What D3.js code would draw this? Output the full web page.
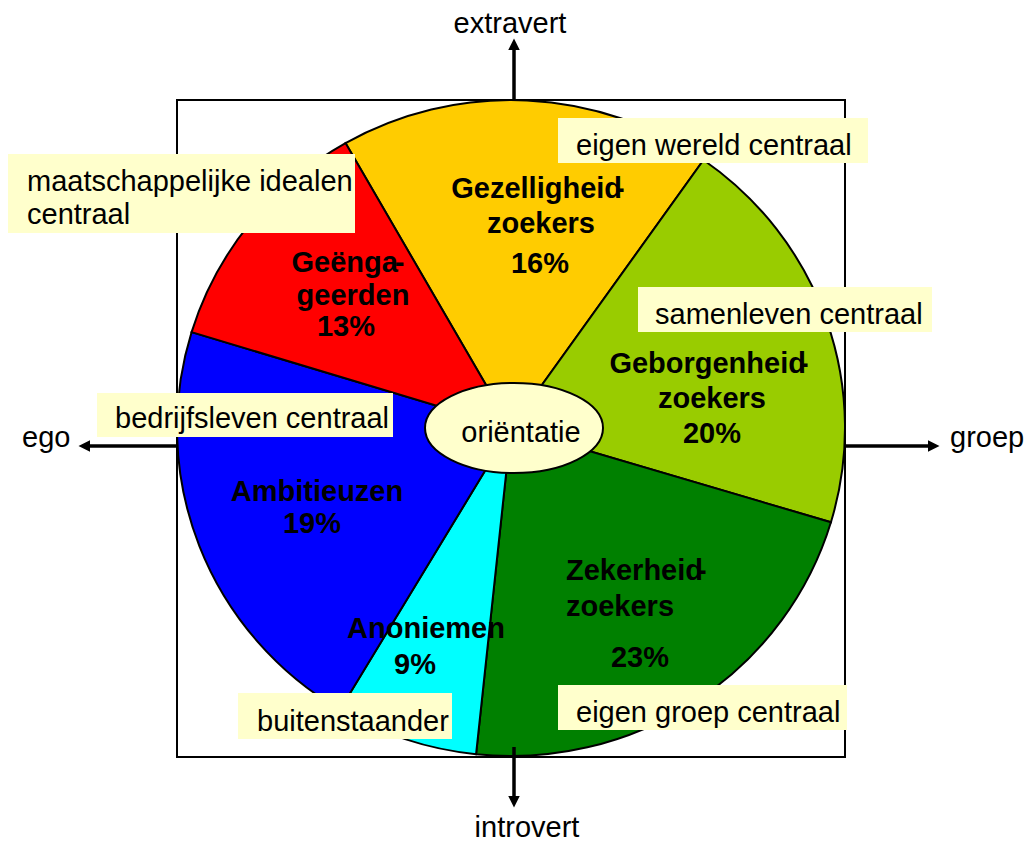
<!DOCTYPE html>
<html>
<head>
<meta charset="utf-8">
<script src="https://cdn.jsdelivr.net/npm/d3@7"></script>
<style>
  body { margin: 0; background: #fff; }
  svg { display: block; }
  text { font-family: "Liberation Sans", Arial, sans-serif; fill: #000; }
</style>
</head>
<body>
<script>
// segments clockwise, starting at the top-left (yellow)
const segments = ["Gezelligheidzoekers", "Geborgenheidzoekers", "Zekerheidzoekers", "Anoniemen", "Ambitieuzen", "Geëngageerden"];
const percentLabels = ["16%", "20%", "23%", "9%", "19%", "13%"];
// slice width as it is drawn in the picture, in degrees
const sliceShare = [64.9, 71.5, 79.3, 24.8, 76.2, 43.3];
const sliceColors = ["#FFCC00", "#99CC00", "#008000", "#00FFFF", "#0000FF", "#FF0000"];
const nameLines = [
  ["Gezelligheid-", "zoekers"],
  ["Geborgenheid-", "zoekers"],
  ["Zekerheid-", "zoekers"],
  ["Anoniemen"],
  ["Ambitieuzen"],
  ["Geënga-", "geerden"]
];
const notes = ["eigen wereld centraal", "samenleven centraal", "eigen groep centraal", "buitenstaander", "bedrijfsleven centraal", "maatschappelijke idealen\ncentraal"];
const axisLabels = ["extravert", "groep", "introvert", "ego"];
const centreLabel = "oriëntatie";

const W = 1026, H = 843;
const cx = 511, cy = 428, rx = 334, ry = 328;
const startDeg = 330.3;

// where the text sits (name lines, percentage)
const labelPos = [
  {lines: [[538, 198], [541, 233]], pct: [540, 273], anchor: "middle", hy: -7},
  {lines: [[709, 373], [712, 408]], pct: [712, 443], anchor: "middle", hy: -7},
  {lines: [[566, 580], [566, 616]], pct: [640, 667], anchor: "start", hy: -6},
  {lines: [[426, 638]], pct: [415, 674], anchor: "middle", hy: 0},
  {lines: [[317, 501]], pct: [312, 533], anchor: "middle", hy: 0},
  {lines: [[348, 272], [353, 305]], pct: [346, 336], anchor: "middle", hy: -3}
];
const noteBox = [
  {x: 558, y: 118, w: 310, h: 45, tx: 576, ty: 155},
  {x: 638, y: 287, w: 294, h: 45, tx: 655, ty: 324},
  {x: 558, y: 685, w: 289, h: 45, tx: 576, ty: 722},
  {x: 238, y: 693, w: 214, h: 46, tx: 257, ty: 731},
  {x: 97, y: 393, w: 296, h: 44, tx: 115, ty: 428},
  {x: 8, y: 154, w: 347, h: 79, tx: 27, ty: 191}
];

const svg = d3.select("body").append("svg")
  .attr("width", W)
  .attr("height", H);

svg.append("defs").append("marker")
  .attr("id", "head")
  .attr("viewBox", "0 0 10 10")
  .attr("refX", 2).attr("refY", 5)
  .attr("markerWidth", 3.4).attr("markerHeight", 3.4)
  .attr("orient", "auto")
  .append("path")
  .attr("d", "M0,0L10,5L0,10z")
  .attr("fill", "#000");

// pie
const pie = d3.pie().sort(null).value(d => d)
  .startAngle(startDeg * Math.PI / 180)
  .endAngle((startDeg + 360) * Math.PI / 180);
const arc = d3.arc().innerRadius(0).outerRadius(rx);

const pieG = svg.append("g")
  .attr("transform", "translate(" + cx + "," + cy + ") scale(1," + (ry / rx) + ")");

pieG.selectAll("path")
  .data(pie(sliceShare))
  .join("path")
  .attr("d", arc)
  .attr("fill", (d, i) => sliceColors[i])
  .attr("stroke", "#000")
  .attr("stroke-width", 2)
  .attr("vector-effect", "non-scaling-stroke");

// frame
svg.append("rect")
  .attr("x", 177).attr("y", 100)
  .attr("width", 668).attr("height", 657)
  .attr("fill", "none")
  .attr("stroke", "#000")
  .attr("stroke-width", 2);

// axis arrows
const arrows = [
  [514, 100, 514, 48],
  [845, 446, 930, 446],
  [514, 747, 514, 798],
  [177, 446, 88, 446]
];
svg.selectAll(".arrow")
  .data(arrows)
  .join("line")
  .attr("class", "arrow")
  .attr("x1", d => d[0]).attr("y1", d => d[1])
  .attr("x2", d => d[2]).attr("y2", d => d[3])
  .attr("stroke", "#000")
  .attr("stroke-width", 3.5)
  .attr("marker-end", "url(#head)");

const axisPos = [[510, 33, "middle"], [950, 447, "start"], [527, 837, "middle"], [22, 447, "start"]];
svg.selectAll(".axislabel")
  .data(axisLabels)
  .join("text")
  .attr("class", "axislabel")
  .attr("x", (d, i) => axisPos[i][0])
  .attr("y", (d, i) => axisPos[i][1])
  .attr("text-anchor", (d, i) => axisPos[i][2])
  .attr("font-size", 29)
  .text(d => d);

// segment names and percentages
segments.forEach((s, i) => {
  const p = labelPos[i];
  nameLines[i].forEach((line, j) => {
    const t = svg.append("text")
      .attr("x", p.lines[j][0])
      .attr("y", p.lines[j][1])
      .attr("text-anchor", p.anchor)
      .attr("font-size", 29)
      .attr("font-weight", "bold");
    if (line.endsWith("-")) {
      t.append("tspan").text(line.slice(0, -1));
      t.append("tspan").attr("dx", p.hy).text("-");
    } else {
      t.text(line);
    }
  });
  svg.append("text")
    .attr("x", p.pct[0])
    .attr("y", p.pct[1])
    .attr("text-anchor", "middle")
    .attr("font-size", 29)
    .attr("font-weight", "bold")
    .text(percentLabels[i]);
});

// centre ellipse
svg.append("ellipse")
  .attr("cx", 514).attr("cy", 428)
  .attr("rx", 89).attr("ry", 45)
  .attr("fill", "#FFFFCC")
  .attr("stroke", "#000")
  .attr("stroke-width", 2);
svg.append("text")
  .attr("x", 521).attr("y", 442)
  .attr("text-anchor", "middle")
  .attr("font-size", 29)
  .text(centreLabel);

// note boxes
notes.forEach((n, i) => {
  const b = noteBox[i];
  svg.append("rect")
    .attr("x", b.x).attr("y", b.y)
    .attr("width", b.w).attr("height", b.h)
    .attr("fill", "#FFFFCC");
  n.split("\n").forEach((line, j) => {
    svg.append("text")
      .attr("x", b.tx)
      .attr("y", b.ty + j * 33)
      .attr("font-size", 29)
      .text(line);
  });
});
</script>
</body>
</html>
